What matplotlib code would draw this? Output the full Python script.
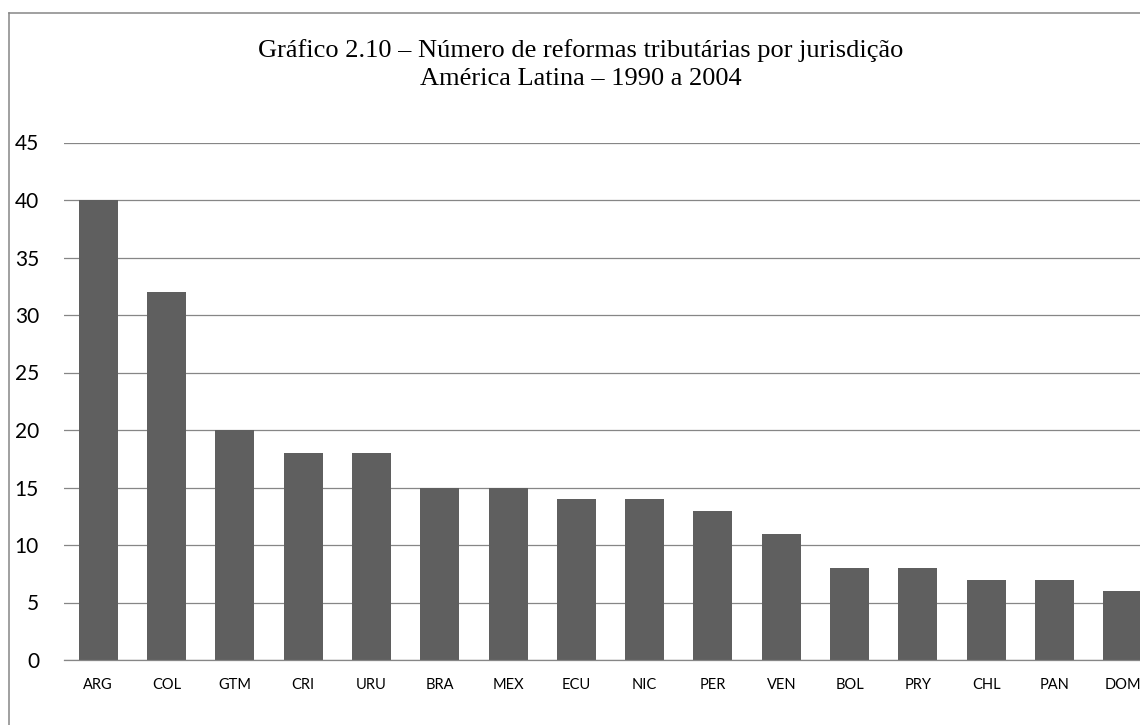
import matplotlib
matplotlib.use("Agg")
import matplotlib.pyplot as plt
from matplotlib.lines import Line2D

# data
paises = ["ARG", "COL", "GTM", "CRI", "URU", "BRA", "MEX", "ECU",
          "NIC", "PER", "VEN", "BOL", "PRY", "CHL", "PAN", "DOM"]
reformas = [40, 32, 20, 18, 18, 15, 15, 14, 14, 13, 11, 8, 8, 7, 7, 6]
yticks = [0, 5, 10, 15, 20, 25, 30, 35, 40, 45]

W, H = 1140, 725
fig = plt.figure(figsize=(W / 100, H / 100), dpi=100)
cinza = "#868686"

# the original chart is wider than the picture, so the axes run past the right edge
x0, x1 = 64, 1157
y0, y1 = 660, 142.5
ax = fig.add_axes([x0 / W, 1 - y0 / H, (x1 - x0) / W, (y0 - y1) / H])

ax.bar(range(len(paises)), reformas, width=0.571, color="#5f5f5f", zorder=2)
ax.set_xlim(-0.5, len(paises) - 0.5)
ax.set_ylim(0, 45)
ax.set_yticks(yticks)
ax.set_xticks(range(len(paises)))
ax.set_xticklabels(paises, fontfamily="Lato", fontsize=10.5)
ax.set_yticklabels([str(v) for v in yticks], fontfamily="Lato", fontsize=15)
ax.tick_params(axis="y", length=0, pad=18)
ax.tick_params(axis="x", length=0, pad=13)
ax.grid(axis="y", color=cinza, lw=0.9, zorder=0)
ax.set_axisbelow(True)
for s in ["top", "right", "left"]:
    ax.spines[s].set_visible(False)
ax.spines["bottom"].set_color(cinza)
ax.spines["bottom"].set_linewidth(0.9)

# title
fig.text(581 / W, 1 - 57 / H,
         "Gráfico 2.10 – Número de reformas tributárias por jurisdição",
         ha="center", va="baseline", fontfamily="Liberation Serif", fontsize=19)
fig.text(581 / W, 1 - 85 / H, "América Latina – 1990 a 2004",
         ha="center", va="baseline", fontfamily="Liberation Serif", fontsize=19)

# chart frame (left and top visible)
fig.add_artist(Line2D([8.7 / W, 8.7 / W], [0, 1 - 13 / H], color=cinza, lw=1.1,
                      transform=fig.transFigure))
fig.add_artist(Line2D([8.7 / W, 1], [1 - 13 / H, 1 - 13 / H], color=cinza, lw=1.1,
                      transform=fig.transFigure))

fig.savefig("out.png", dpi=100)
